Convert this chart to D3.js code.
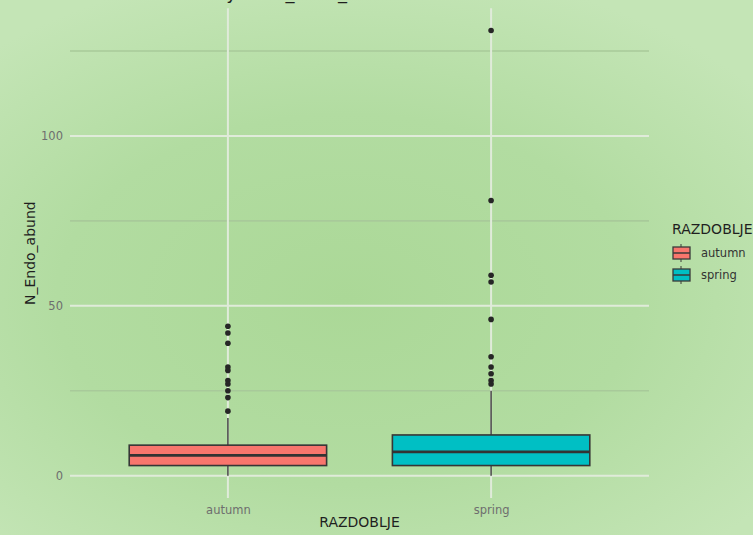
<!DOCTYPE html>
<html>
<head>
<meta charset="utf-8">
<script src="https://cdn.jsdelivr.net/npm/d3@7"></script>
<style>
  html, body { margin: 0; padding: 0; background: #b8dfa8; }
  svg { display: block; }
  text { font-family: "DejaVu Sans", "Liberation Sans", sans-serif; }
</style>
</head>
<body>
<svg id="chart" width="753" height="535"></svg>
<script>
// Season categories and box summaries of N_Endo_abund
const categories = ["autumn", "spring"];
const fillColors = ["#F8766D", "#00BFC4"];
const q1 = [3, 3];
const medians = [6, 7];
const q3 = [9, 12];
const whiskerLow = [0, 0];
const whiskerHigh = [17, 25];
const outliersAutumn = [44, 42, 39, 32, 31, 28, 27, 25, 23, 19];
const outliersSpring = [131, 81, 59, 57, 46, 35, 32, 30, 28, 27];
const yTickValues = [0, 50, 100];
const yMinorValues = [25, 75, 125];

const outliers = [outliersAutumn, outliersSpring];
const boxes = categories.map((c, i) => ({
  cat: c, fill: fillColors[i], q1: q1[i], med: medians[i], q3: q3[i],
  lo: whiskerLow[i], hi: whiskerHigh[i], out: outliers[i]
}));

const W = 753, H = 535;
const panel = { left: 70, right: 649, top: 8.3, bottom: 498 };

const svg = d3.select("#chart");

// Soft green backdrop, lighter towards the edges
const defs = svg.append("defs");
const grad = defs.append("radialGradient").attr("id", "bg")
  .attr("cx", "46%").attr("cy", "56%").attr("r", "70%")
  .attr("gradientTransform", "translate(0.46,0.56) scale(1,0.9) translate(-0.46,-0.56)");
grad.append("stop").attr("offset", "0%").attr("stop-color", "#abd897");
grad.append("stop").attr("offset", "55%").attr("stop-color", "#b2dca1");
grad.append("stop").attr("offset", "100%").attr("stop-color", "#c4e5b6");
svg.append("rect").attr("width", W).attr("height", H).attr("fill", "url(#bg)");

// Scales (5% expansion on the continuous axis, 0.6 step on the discrete one)
const allVals = boxes.flatMap(b => [b.lo, b.hi, ...b.out]);
const yMin = d3.min(allVals), yMax = d3.max(allVals);
const pad = (yMax - yMin) * 0.05;
const y = d3.scaleLinear().domain([yMin - pad, yMax + pad]).range([panel.bottom, panel.top]);
const x = d3.scalePoint().domain(categories).range([panel.left, panel.right]).padding(0.6);
const boxW = x.step() * 0.75;

// Grid
const grid = svg.append("g");
grid.selectAll("line.minor").data(yMinorValues).join("line")
  .attr("x1", panel.left).attr("x2", panel.right)
  .attr("y1", d => y(d)).attr("y2", d => y(d))
  .attr("stroke", "#a8ca9a").attr("stroke-width", 1.6);
grid.selectAll("line.major").data(yTickValues).join("line")
  .attr("x1", panel.left).attr("x2", panel.right)
  .attr("y1", d => y(d)).attr("y2", d => y(d))
  .attr("stroke", "#e0ebda").attr("stroke-width", 2);
grid.selectAll("line.vert").data(categories).join("line")
  .attr("x1", d => x(d)).attr("x2", d => x(d))
  .attr("y1", panel.top).attr("y2", panel.bottom)
  .attr("stroke", "#e0ebda").attr("stroke-width", 2);

// Y axis
const yAxis = d3.axisLeft(y).tickValues(yTickValues).tickSize(0).tickPadding(7);
const gy = svg.append("g").attr("transform", `translate(${panel.left},0)`).call(yAxis);
gy.select(".domain").remove();
gy.selectAll("text").attr("font-size", 11.5).attr("fill", "#6e6e6e")
  .attr("font-family", "DejaVu Sans, sans-serif");

// X axis
const xAxis = d3.axisBottom(x).tickSize(0).tickPadding(8);
const gx = svg.append("g").attr("transform", `translate(0,${panel.bottom})`).call(xAxis);
gx.select(".domain").remove();
gx.selectAll("text").attr("font-size", 11.5).attr("fill", "#6e6e6e")
  .attr("font-family", "DejaVu Sans, sans-serif");

// Boxplots
const gb = svg.append("g");
const box = gb.selectAll("g.box").data(boxes).join("g").attr("class", "box");
box.append("line")
  .attr("x1", d => x(d.cat)).attr("x2", d => x(d.cat))
  .attr("y1", d => y(d.hi)).attr("y2", d => y(d.q3))
  .attr("stroke", "#3a3a3a").attr("stroke-width", 1.4);
box.append("line")
  .attr("x1", d => x(d.cat)).attr("x2", d => x(d.cat))
  .attr("y1", d => y(d.q1)).attr("y2", d => y(d.lo))
  .attr("stroke", "#3a3a3a").attr("stroke-width", 1.4);
box.append("rect")
  .attr("x", d => x(d.cat) - boxW / 2).attr("width", boxW)
  .attr("y", d => y(d.q3)).attr("height", d => y(d.q1) - y(d.q3))
  .attr("fill", d => d.fill).attr("stroke", "#363636").attr("stroke-width", 1.6);
box.append("line")
  .attr("x1", d => x(d.cat) - boxW / 2).attr("x2", d => x(d.cat) + boxW / 2)
  .attr("y1", d => y(d.med)).attr("y2", d => y(d.med))
  .attr("stroke", "#333").attr("stroke-width", 2.8);
box.selectAll("circle").data(d => d.out.map(v => ({ cat: d.cat, v }))).join("circle")
  .attr("cx", d => x(d.cat)).attr("cy", d => y(d.v)).attr("r", 2.8)
  .attr("fill", "#262626");

// Axis titles
svg.append("text").attr("x", (panel.left + panel.right) / 2).attr("y", 527)
  .attr("text-anchor", "middle").attr("font-size", 14).attr("fill", "#1f1f1f")
  .text("RAZDOBLJE");
svg.append("text")
  .attr("transform", `translate(35,${(panel.top + panel.bottom) / 2}) rotate(-90)`)
  .attr("text-anchor", "middle").attr("font-size", 14).attr("fill", "#1f1f1f")
  .text("N_Endo_abund");

// Plot title (runs off the top edge)
svg.append("text").attr("x", 58).attr("y", -1.5)
  .attr("font-size", 18).attr("fill", "#1f1f1f")
  .text("Endo abundance by zone_code_id");

// Legend
const lg = svg.append("g").attr("transform", "translate(672,0)");
lg.append("text").attr("x", 0).attr("y", 234).attr("font-size", 14).attr("fill", "#1f1f1f")
  .text("RAZDOBLJE");
const item = lg.selectAll("g.item").data(boxes).join("g")
  .attr("transform", (d, i) => `translate(0,${253 + i * 22})`);
item.append("line").attr("x1", 9).attr("x2", 9).attr("y1", -9).attr("y2", 9)
  .attr("stroke", "#3a3a3a").attr("stroke-width", 1);
item.append("rect").attr("x", 1).attr("y", -6).attr("width", 17).attr("height", 12)
  .attr("fill", d => d.fill).attr("stroke", "#3a3a3a").attr("stroke-width", 1.3);
item.append("line").attr("x1", 1).attr("x2", 18).attr("y1", 0).attr("y2", 0)
  .attr("stroke", "#3a3a3a").attr("stroke-width", 1.5);
item.append("text").attr("x", 29).attr("y", 4).attr("font-size", 11.5).attr("fill", "#333")
  .text(d => d.cat);
</script>
</body>
</html>
